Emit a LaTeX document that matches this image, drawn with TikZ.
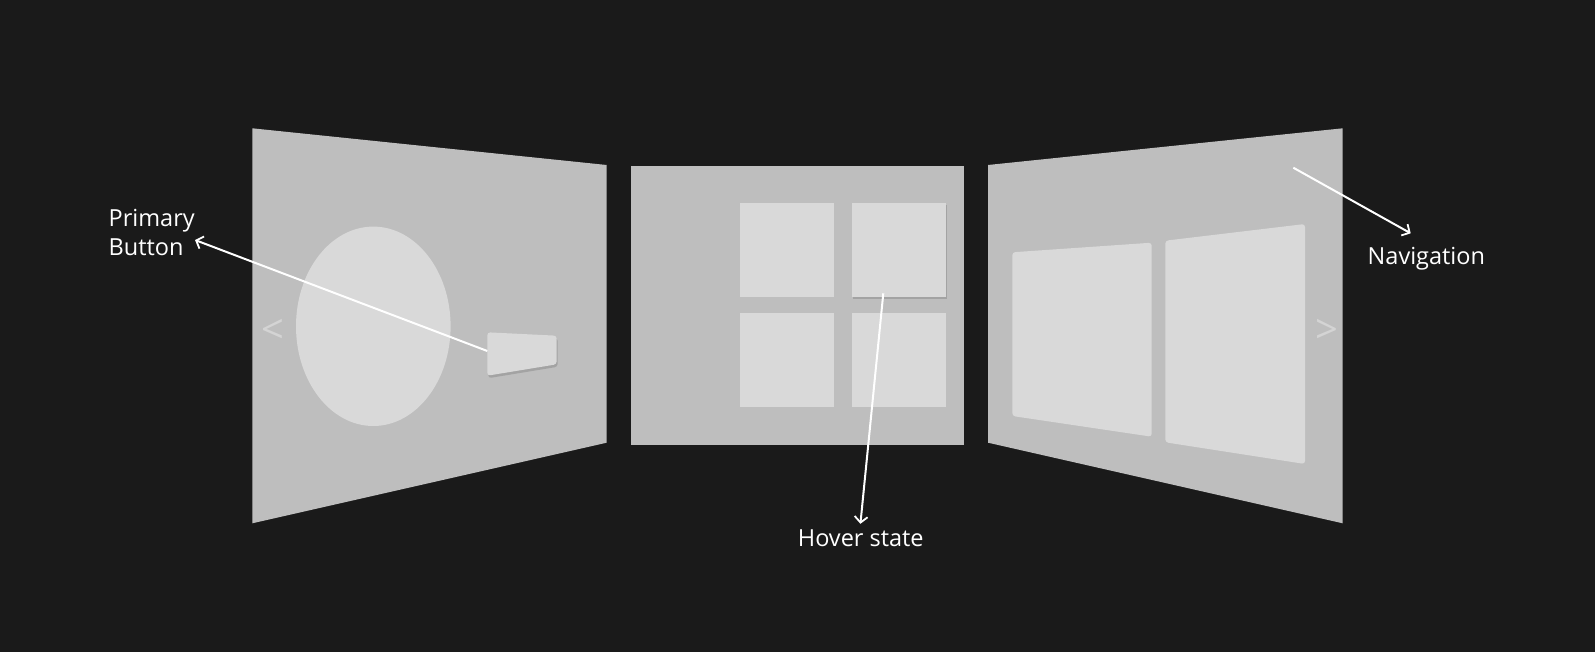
\documentclass[tikz,border=0pt]{standalone}
\usepackage{fontspec}
\setmainfont{Open Sans}
\usetikzlibrary{shadows,arrows.meta}
\definecolor{bg}{HTML}{1A1A1A}
\definecolor{panel}{HTML}{BEBEBE}
\definecolor{tile}{HTML}{D9D9D9}
\definecolor{chev}{HTML}{D4D4D4}
\tikzset{
  panel/.style={fill=panel},
  tile/.style={fill=tile},
  lift/.style={drop shadow={shadow xshift=1pt,shadow yshift=-2.5pt,opacity=0.14,fill=black}},
  pointer/.style={draw=white,line width=2pt,-{Straight Barb[length=6pt,width=13pt,line width=1.8pt]}},
  callout/.style={text=white,font=\fontsize{23.5}{29}\selectfont,inner sep=0pt,align=left},
  chevron/.style={text=chev,font=\fontsize{40}{40}\selectfont,inner sep=0pt}
}
\begin{document}
\begin{tikzpicture}[x=1pt,y=-1pt]
\fill[bg] (0,0) rectangle (1595,652);
\useasboundingbox (0,0) rectangle (1595,652);

% left panel
\fill[panel] (252.3,128.3) -- (606.7,165) -- (606.7,442.7) -- (252.3,523.3) -- cycle;
\fill[tile] (373.3,326.3) ellipse [x radius=77.3, y radius=99.7];
\fill[tile,lift,rounded corners=3pt] (487.3,332.3) -- (556.7,335.7) -- (556.7,364.3) -- (487.3,375.7) -- cycle;
\node[chevron] (prev) at (273.3,331) {<};

% middle panel
\fill[panel] (631,166) rectangle (964,444.7);
\foreach \x/\y in {740/202.7, 740/313, 852/313}
  \fill[tile] (\x,\y) rectangle ++(94,94);
\fill[tile,lift] (852,202.7) rectangle ++(94,94);

% right panel
\fill[panel] (988,165) -- (1342.7,128.3) -- (1342.7,523.3) -- (988,442.7) -- cycle;
\begin{scope}[rounded corners=3pt]
\fill[tile] (1012.3,252.3) -- (1151.7,242.7) -- (1151.7,436.7) -- (1012.3,416) -- cycle;
\fill[tile] (1165.3,240.7) -- (1305,224) -- (1305,464) -- (1165.3,442.3) -- cycle;
\end{scope}
\node[chevron] (next) at (1326.7,331) {>};

% labels
\node[callout,anchor=base west] (primary) at (108.5,255.7) {Primary\\Button};
\node[callout,anchor=base] (hover) at (860.8,546.7) {Hover state};
\node[callout,anchor=base west] (nav) at (1367.5,264.7) {Navigation};

\coordinate (btn) at (487.3,351);
\coordinate (btn tip) at (195,240);
\coordinate (hov) at (883.3,293.3);
\coordinate (hov tip) at (860.4,523.8);
\coordinate (nav start) at (1293.3,167.7);
\coordinate (nav tip) at (1410.7,233.3);
\draw[pointer] (btn) -- (btn tip);
\draw[pointer] (hov) -- (hov tip);
\draw[pointer] (nav start) -- (nav tip);
\end{tikzpicture}
\end{document}
